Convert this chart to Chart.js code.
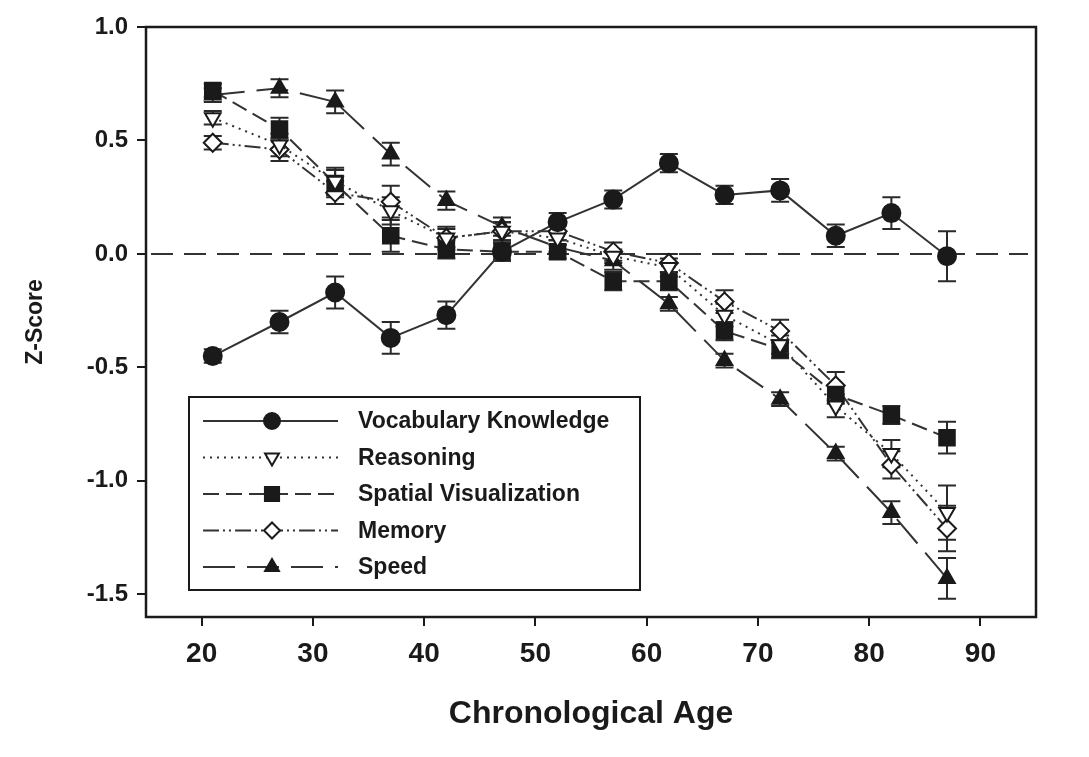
<!DOCTYPE html>
<html>
<head>
<meta charset="utf-8">
<script src="https://cdn.jsdelivr.net/npm/chart.js@4.4.1/dist/chart.umd.min.js"></script>
<style>
  html, body { margin: 0; padding: 0; background: #fff; }
  #wrap { width: 1089px; height: 757px; position: relative; }
</style>
</head>
<body>
<div id="wrap"><canvas id="ageChart"></canvas></div>
<script>
// ages and z-scores
const ages = [21, 27, 32, 37, 42, 47, 52, 57, 62, 67, 72, 77, 82, 87];

const vocabulary    = [-0.45, -0.30, -0.17, -0.37, -0.27, 0.01, 0.14, 0.24, 0.40, 0.26, 0.28, 0.08, 0.18, -0.01];
const vocabularyErr = [0.03, 0.05, 0.07, 0.07, 0.06, 0.04, 0.04, 0.04, 0.04, 0.04, 0.05, 0.05, 0.07, 0.11];

const reasoning    = [0.60, 0.48, 0.32, 0.19, 0.07, 0.10, 0.07, -0.01, -0.06, -0.27, -0.40, -0.67, -0.88, -1.14];
const reasoningErr = [0.03, 0.05, 0.06, 0.06, 0.04, 0.04, 0.03, 0.03, 0.04, 0.05, 0.04, 0.05, 0.06, 0.12];

const spatial    = [0.72, 0.55, 0.31, 0.08, 0.02, 0.01, 0.01, -0.12, -0.12, -0.34, -0.42, -0.62, -0.71, -0.81];
const spatialErr = [0.03, 0.05, 0.06, 0.07, 0.04, 0.04, 0.03, 0.04, 0.04, 0.04, 0.04, 0.04, 0.04, 0.07];

const memory    = [0.49, 0.46, 0.27, 0.23, 0.07, 0.10, 0.10, 0.01, -0.04, -0.21, -0.34, -0.58, -0.93, -1.21];
const memoryErr = [0.03, 0.05, 0.05, 0.07, 0.05, 0.04, 0.04, 0.04, 0.04, 0.05, 0.05, 0.06, 0.06, 0.10];

const speed    = [0.70, 0.73, 0.67, 0.44, 0.235, 0.12, 0.03, -0.03, -0.22, -0.47, -0.64, -0.88, -1.14, -1.43];
const speedErr = [0.03, 0.04, 0.05, 0.05, 0.04, 0.04, 0.03, 0.04, 0.03, 0.03, 0.03, 0.03, 0.05, 0.09];

const xTicks = [20, 30, 40, 50, 60, 70, 80, 90];
const yTicks = [-1.5, -1.0, -0.5, 0.0, 0.5, 1.0];

const ink = '#1a1a1a';
const lineInk = '#333';

function pts(vals) {
    return ages.map((a, i) => ({ x: a, y: vals[i] }));
}

function series(label, vals, errs, style, dash, fill, rot, radius) {
    return {
        label: label,
        data: pts(vals),
        errors: errs,
        showLine: true,
        borderColor: lineInk,
        borderWidth: 2,
        borderDash: dash,
        pointStyle: style,
        rotation: rot || 0,
        pointRadius: radius,
        pointHoverRadius: radius,
        pointBackgroundColor: fill,
        pointBorderColor: ink,
        pointBorderWidth: 2,
        fill: false,
        tension: 0
    };
}

const datasets = [
    series('Vocabulary Knowledge', vocabulary, vocabularyErr, 'circle', [], ink, 0, 9),
    series('Reasoning', reasoning, reasoningErr, 'triangle', [2, 5], '#fff', 180, 9),
    series('Spatial Visualization', spatial, spatialErr, 'rect', [16, 7], ink, 0, 11),
    series('Memory', memory, memoryErr, 'rectRot', [16, 4, 2, 4, 2, 4], '#fff', 0, 9),
    series('Speed', speed, speedErr, 'triangle', [32, 12], ink, 0, 9)
];

// dashed zero reference line + error bars, drawn under the markers
const underlay = {
    id: 'underlay',
    beforeDatasetsDraw(chart) {
        const ctx = chart.ctx;
        const xs = chart.scales.x, ys = chart.scales.y;
        const area = chart.chartArea;
        ctx.save();
        ctx.strokeStyle = lineInk;
        ctx.lineWidth = 2;
        ctx.setLineDash([22, 11]);
        ctx.lineDashOffset = -5;
        const y0 = ys.getPixelForValue(0);
        ctx.beginPath();
        ctx.moveTo(area.left, y0);
        ctx.lineTo(area.right - 8, y0);
        ctx.stroke();
        ctx.setLineDash([]);

        ctx.strokeStyle = '#2a2a2a';
        chart.data.datasets.forEach(ds => {
            ds.data.forEach((p, i) => {
                const e = ds.errors[i];
                const px = xs.getPixelForValue(p.x);
                const top = ys.getPixelForValue(p.y + e);
                const bot = ys.getPixelForValue(p.y - e);
                ctx.beginPath();
                ctx.moveTo(px, top); ctx.lineTo(px, bot);
                ctx.moveTo(px - 9, top); ctx.lineTo(px + 9, top);
                ctx.moveTo(px - 9, bot); ctx.lineTo(px + 9, bot);
                ctx.stroke();
            });
        });
        ctx.restore();
    }
};

// frame round the plot and the boxed legend inside it
const frameAndLegend = {
    id: 'frameAndLegend',
    afterDraw(chart) {
        const ctx = chart.ctx;
        const area = chart.chartArea;
        ctx.save();
        ctx.strokeStyle = ink;
        ctx.lineWidth = 2.5;
        ctx.strokeRect(area.left, area.top, area.right - area.left, area.bottom - area.top);

        const bx = 189, by = 397, bw = 451, bh = 193;
        ctx.fillStyle = '#fff';
        ctx.fillRect(bx, by, bw, bh);
        ctx.lineWidth = 2;
        ctx.strokeRect(bx, by, bw, bh);

        chart.data.datasets.forEach((ds, i) => {
            const y = 421 + i * 36.5;
            ctx.strokeStyle = lineInk;
            ctx.lineWidth = 2;
            ctx.setLineDash(ds.borderDash);
            ctx.beginPath();
            ctx.moveTo(203, y);
            ctx.lineTo(338, y);
            ctx.stroke();
            ctx.setLineDash([]);
            ctx.fillStyle = ds.pointBackgroundColor;
            ctx.strokeStyle = ink;
            ctx.lineWidth = 2;
            Chart.helpers.drawPoint(ctx, {
                pointStyle: ds.pointStyle,
                rotation: ds.rotation,
                radius: ds.pointRadius - 1,
                borderWidth: 2
            }, 272, y);
            ctx.fillStyle = ink;
            ctx.font = 'bold 23px "Liberation Sans", Arial, sans-serif';
            ctx.textBaseline = 'middle';
            ctx.textAlign = 'left';
            ctx.fillText(ds.label, 358, y + 1);
        });
        ctx.restore();
    }
};

const ctxEl = document.getElementById('ageChart');
new Chart(ctxEl, {
    type: 'scatter',
    data: { datasets: datasets },
    plugins: [underlay, frameAndLegend],
    options: {
        responsive: true,
        maintainAspectRatio: false,
        animation: false,
        layout: { padding: { top: 27, right: 53, left: 0, bottom: 0 } },
        plugins: {
            legend: { display: false },
            tooltip: { enabled: false }
        },
        scales: {
            x: {
                type: 'linear',
                min: 15,
                max: 95,
                afterFit: s => { s.height = 140; },
                afterBuildTicks: s => { s.ticks = xTicks.map(v => ({ value: v })); },
                grid: { drawOnChartArea: false, drawTicks: true, tickLength: 9, color: ink, lineWidth: 2 },
                border: { display: false },
                ticks: {
                    color: ink,
                    padding: 11,
                    font: { family: '"Liberation Sans", Arial', size: 28, weight: 'bold' }
                },
                title: {
                    display: true,
                    text: 'Chronological Age',
                    color: ink,
                    padding: { top: 0, bottom: 24 },
                    font: { family: '"Liberation Sans", Arial', size: 32, weight: 'bold' }
                }
            },
            y: {
                min: -1.6,
                max: 1.0,
                afterFit: s => { s.width = 146; },
                afterBuildTicks: s => { s.ticks = yTicks.map(v => ({ value: v })); },
                grid: { drawOnChartArea: false, drawTicks: true, tickLength: 9, color: ink, lineWidth: 2 },
                border: { display: false },
                ticks: {
                    color: ink,
                    padding: 9,
                    callback: v => v.toFixed(1),
                    font: { family: '"Liberation Sans", Arial', size: 24, weight: 'bold' }
                },
                title: {
                    display: true,
                    text: 'Z-Score',
                    color: ink,
                    padding: { top: 22, bottom: 0 },
                    font: { family: '"Liberation Sans", Arial', size: 23, weight: 'bold' }
                }
            }
        }
    }
});
</script>
</body>
</html>
